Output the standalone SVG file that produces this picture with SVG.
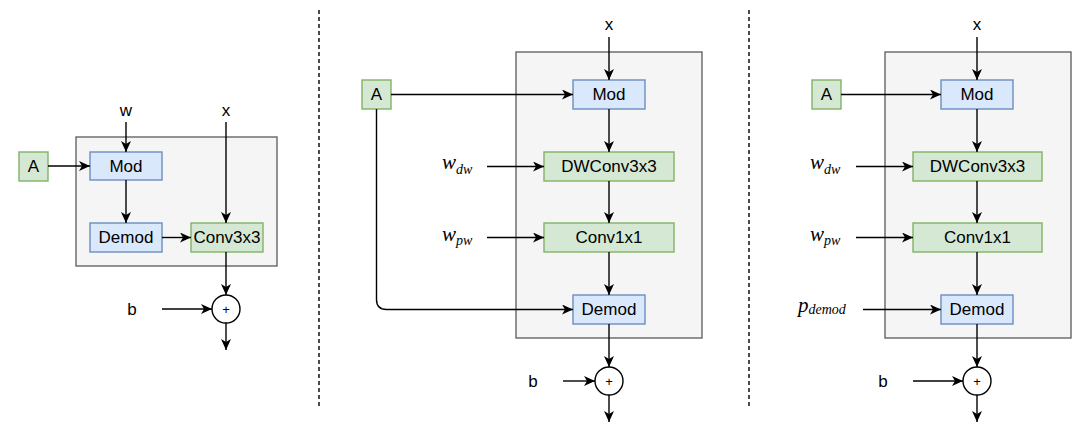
<svg xmlns="http://www.w3.org/2000/svg" width="1091" height="448" viewBox="0 0 1091 448">
<style>
.bg{fill:#f5f5f5;stroke:#666666;stroke-width:1.4}
.blue{fill:#dae8fc;stroke:#6c8ebf;stroke-width:1.4}
.green{fill:#d5e8d4;stroke:#82b366;stroke-width:1.4}
.sum{fill:#ffffff;stroke:#000000;stroke-width:1.4}
.t{font-family:"Liberation Sans",Arial,sans-serif;font-size:17px;fill:#000000;text-anchor:middle;dominant-baseline:central}
.p{font-family:"Liberation Sans",Arial,sans-serif;font-size:13px;fill:#000000;text-anchor:middle;dominant-baseline:central}
.m{font-family:"Liberation Serif","Times New Roman",serif;font-style:italic;font-size:21px;fill:#000000}
.s{font-size:14px}
.c{fill:none;stroke:#000000;stroke-width:1.4;marker-end:url(#ah)}
.sep{fill:none;stroke:#000000;stroke-width:1.4;stroke-dasharray:4 3}
</style>
<defs>
<marker id="ah" viewBox="0 0 11 10" markerWidth="11" markerHeight="10" refX="11" refY="5" markerUnits="userSpaceOnUse" orient="auto">
<path d="M0,0 L11,5 L0,10 L3,5 Z" fill="#000000"/>
</marker>
</defs>
<rect x="0" y="0" width="1091" height="448" fill="#ffffff"/>

<g id="separators">
<line class="sep" x1="319" y1="10" x2="319" y2="408"/>
<line class="sep" x1="749" y1="10" x2="749" y2="408"/>
</g>

<!-- Panel 1 -->
<g id="p1-block"><rect class="bg" x="76" y="137" width="201" height="129"/></g>
<g id="p1-A"><rect class="green" x="19" y="152" width="29" height="29"/><text class="t" x="33.5" y="166.5">A</text></g>
<g id="p1-Mod"><rect class="blue" x="90" y="152" width="72" height="28"/><text class="t" x="126" y="166">Mod</text></g>
<g id="p1-Demod"><rect class="blue" x="90" y="223" width="72" height="29"/><text class="t" x="126" y="237.5">Demod</text></g>
<g id="p1-Conv"><rect class="green" x="191" y="223" width="72" height="29"/><text class="t" x="227" y="237.5">Conv3x3</text></g>
<g id="p1-w"><text class="t" x="126" y="110">w</text></g>
<g id="p1-x"><text class="t" x="226" y="110">x</text></g>
<g id="p1-b"><text class="t" x="132" y="309">b</text></g>
<g id="p1-sum"><circle class="sum" cx="226" cy="309" r="14"/><text class="p" x="226" y="309">+</text></g>

<!-- Panel 2 -->
<g id="p2-block"><rect class="bg" x="516" y="52" width="186" height="286"/></g>
<g id="p2-A"><rect class="green" x="362" y="80" width="29" height="29"/><text class="t" x="376.5" y="94.5">A</text></g>
<g id="p2-Mod"><rect class="blue" x="573" y="80" width="72" height="29"/><text class="t" x="609" y="94.5">Mod</text></g>
<g id="p2-DW"><rect class="green" x="544" y="152" width="130" height="29"/><text class="t" x="609" y="166.5">DWConv3x3</text></g>
<g id="p2-Conv"><rect class="green" x="544" y="223" width="130" height="29"/><text class="t" x="609" y="237.5">Conv1x1</text></g>
<g id="p2-Demod"><rect class="blue" x="573" y="295" width="72" height="29"/><text class="t" x="609" y="309.5">Demod</text></g>
<g id="p2-x"><text class="t" x="609" y="24">x</text></g>
<g id="p2-wdw"><text class="m" x="442" y="169">w<tspan class="s" dy="4.5">dw</tspan></text></g>
<g id="p2-wpw"><text class="m" x="442" y="240.5">w<tspan class="s" dy="4.5">pw</tspan></text></g>
<g id="p2-b"><text class="t" x="533" y="381">b</text></g>
<g id="p2-sum"><circle class="sum" cx="609" cy="381" r="14"/><text class="p" x="609" y="381">+</text></g>

<!-- Panel 3 -->
<g id="p3-block"><rect class="bg" x="885" y="52" width="186" height="286"/></g>
<g id="p3-A"><rect class="green" x="812" y="80" width="29" height="29"/><text class="t" x="826.5" y="94.5">A</text></g>
<g id="p3-Mod"><rect class="blue" x="941" y="80" width="72" height="29"/><text class="t" x="977" y="94.5">Mod</text></g>
<g id="p3-DW"><rect class="green" x="913" y="152" width="129" height="29"/><text class="t" x="977.5" y="166.5">DWConv3x3</text></g>
<g id="p3-Conv"><rect class="green" x="913" y="223" width="129" height="29"/><text class="t" x="977.5" y="237.5">Conv1x1</text></g>
<g id="p3-Demod"><rect class="blue" x="941" y="295" width="72" height="29"/><text class="t" x="977" y="309.5">Demod</text></g>
<g id="p3-x"><text class="t" x="977" y="24">x</text></g>
<g id="p3-wdw"><text class="m" x="810" y="169">w<tspan class="s" dy="4.5">dw</tspan></text></g>
<g id="p3-wpw"><text class="m" x="810" y="240.5">w<tspan class="s" dy="4.5">pw</tspan></text></g>
<g id="p3-pdemod"><text class="m" x="798" y="312">p<tspan class="s" dy="2">demod</tspan></text></g>
<g id="p3-b"><text class="t" x="883" y="381">b</text></g>
<g id="p3-sum"><circle class="sum" cx="977" cy="381" r="14"/><text class="p" x="977" y="381">+</text></g>

<g id="connectors">
<!-- panel 1 -->
<path class="c" d="M126,122 V152"/>
<path class="c" d="M226,122 V223"/>
<path class="c" d="M48,166 H90"/>
<path class="c" d="M126,180 V223"/>
<path class="c" d="M162,237.5 H191"/>
<path class="c" d="M226,252 V295"/>
<path class="c" d="M162,309 H212"/>
<path class="c" d="M226,323 V350"/>
<!-- panel 2 -->
<path class="c" d="M609,37 V80"/>
<path class="c" d="M391,94.5 H573"/>
<path class="c" d="M376.5,109 V299.5 Q376.5,309.5 386.5,309.5 H573"/>
<path class="c" d="M609,109 V152"/>
<path class="c" d="M487,166.5 H544"/>
<path class="c" d="M609,181 V223"/>
<path class="c" d="M487,237.5 H544"/>
<path class="c" d="M609,252 V295"/>
<path class="c" d="M609,324 V367"/>
<path class="c" d="M563,381 H595"/>
<path class="c" d="M609,395 V422"/>
<!-- panel 3 -->
<path class="c" d="M977,37 V80"/>
<path class="c" d="M841,94.5 H941"/>
<path class="c" d="M977,109 V152"/>
<path class="c" d="M856,166.5 H913"/>
<path class="c" d="M977,181 V223"/>
<path class="c" d="M856,237.5 H913"/>
<path class="c" d="M977,252 V295"/>
<path class="c" d="M863,309.5 H941"/>
<path class="c" d="M977,324 V367"/>
<path class="c" d="M913,381 H963"/>
<path class="c" d="M977,395 V422"/>
</g>
</svg>
